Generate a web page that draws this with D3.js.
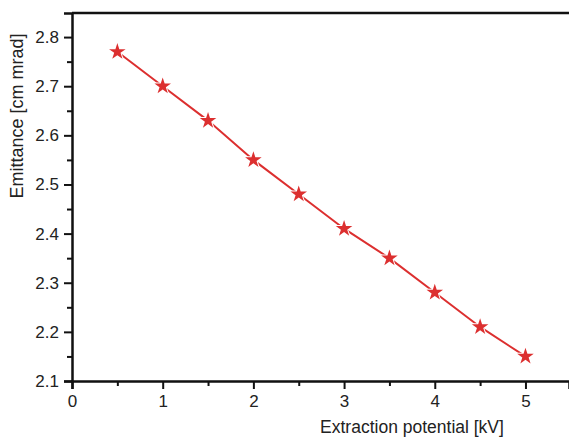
<!DOCTYPE html>
<html>
<head>
<meta charset="utf-8">
<script src="https://cdn.jsdelivr.net/npm/d3@7"></script>
<style>
  body { margin: 0; background: #fff; }
  text { font-family: "Liberation Sans", Arial, sans-serif; fill: #222; }
</style>
</head>
<body>
<div id="chart"></div>
<script>
// data
const potential = [0.5, 1, 1.5, 2, 2.5, 3, 3.5, 4, 4.5, 5];
const emittance = [2.77, 2.70, 2.63, 2.55, 2.48, 2.41, 2.35, 2.28, 2.21, 2.15];
const xTicks = [0, 1, 2, 3, 4, 5];
const yTicks = [2.1, 2.2, 2.3, 2.4, 2.5, 2.6, 2.7, 2.8];

const w = 569, h = 437;
const padLeft = 72, padTop = 13, axisY = 381;
const red = "#dc2f2f";

const svg = d3.select("#chart").append("svg")
    .attr("width", w)
    .attr("height", h);

const xScale = d3.scaleLinear().domain([0, 5.48]).range([padLeft, w]);
const yScale = d3.scaleLinear().domain([2.1, 2.849]).range([axisY, padTop]);

// x axis (major + minor ticks)
svg.append("g")
    .attr("transform", "translate(0," + axisY + ")")
    .call(d3.axisBottom(xScale).tickValues(xTicks).tickSize(8).tickPadding(6).tickFormat(d3.format("d")));
svg.append("g")
    .attr("transform", "translate(0," + axisY + ")")
    .call(d3.axisBottom(xScale).tickValues([0.5, 1.5, 2.5, 3.5, 4.5]).tickSize(5).tickFormat(""))
    .select(".domain").remove();

// y axis
svg.append("g")
    .attr("transform", "translate(" + padLeft + ",0)")
    .call(d3.axisLeft(yScale).tickValues(yTicks).tickSize(8).tickPadding(5).tickFormat(d3.format(".1f")));
svg.append("g")
    .attr("transform", "translate(" + padLeft + ",0)")
    .call(d3.axisLeft(yScale).tickValues([2.15, 2.25, 2.35, 2.45, 2.55, 2.65, 2.75]).tickSize(5).tickFormat(""))
    .select(".domain").remove();

// top frame line
svg.append("line")
    .attr("x1", padLeft).attr("x2", w)
    .attr("y1", padTop).attr("y2", padTop)
    .attr("stroke", "#111").attr("stroke-width", 2.5);

svg.selectAll(".domain").attr("stroke", "#111").attr("stroke-width", 2.5);
svg.selectAll(".tick line").attr("stroke", "#111").attr("stroke-width", 2);
svg.selectAll(".tick text").attr("font-size", 17).attr("fill", "#222")
    .style("font-family", "Liberation Sans, Arial, sans-serif");

const pts = potential.map((p, i) => [p, emittance[i]]);

// line
svg.append("path")
    .datum(pts)
    .attr("fill", "none")
    .attr("stroke", red)
    .attr("stroke-width", 2)
    .attr("d", d3.line().x(d => xScale(d[0])).y(d => yScale(d[1])));

// star markers with a white halo cutting the line
const star = d3.symbol().type(d3.symbolStar).size(85);
svg.append("g")
    .selectAll("path")
    .data(pts)
    .enter()
    .append("path")
        .attr("transform", d => "translate(" + xScale(d[0]) + "," + yScale(d[1]) + ")")
        .attr("d", star)
        .attr("fill", red)
        .attr("stroke", "#fff")
        .attr("stroke-width", 2)
        .attr("paint-order", "stroke");

// axis labels
svg.append("text")
    .attr("text-anchor", "middle")
    .attr("x", 412)
    .attr("y", 433)
    .attr("font-size", 17.5)
    .text("Extraction potential [kV]");

svg.append("text")
    .attr("text-anchor", "middle")
    .attr("transform", "translate(23,116) rotate(-90)")
    .attr("font-size", 18)
    .text("Emittance [cm mrad]");
</script>
</body>
</html>
